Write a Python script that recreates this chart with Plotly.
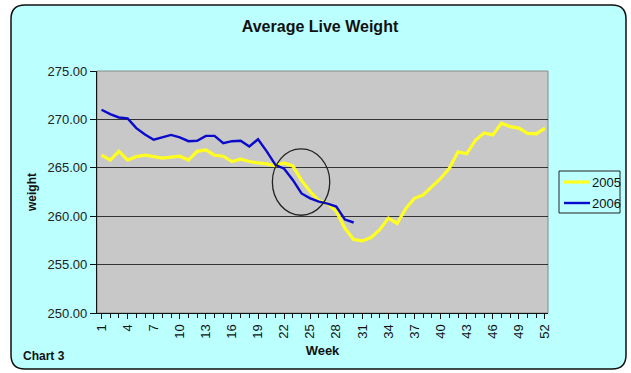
import plotly.graph_objects as go

# Weekly average live weight
weeks = list(range(1, 53))
weight_2005 = [
    266.3, 265.8, 266.7, 265.8, 266.15, 266.3, 266.15, 266.0, 266.1, 266.2,
    265.8, 266.7, 266.85, 266.3, 266.2, 265.65, 265.9, 265.65, 265.5, 265.4,
    265.2, 265.5, 265.2, 263.7, 262.55, 261.6, 261.3, 260.5, 258.75, 257.6,
    257.45, 257.8, 258.6, 259.8, 259.25, 260.8, 261.85, 262.2, 263.05, 263.9,
    264.95, 266.65, 266.45, 267.85, 268.6, 268.4, 269.6, 269.25, 269.1, 268.55,
    268.5, 269.1,
]
weight_2006 = [
    271.0, 270.55, 270.2, 270.1, 269.1, 268.45, 267.9, 268.15, 268.4, 268.15,
    267.75, 267.8, 268.3, 268.3, 267.55, 267.75, 267.8, 267.2, 267.95, 266.7,
    265.3, 264.9, 263.75, 262.35, 261.85, 261.5, 261.3, 261.0, 259.65, 259.35,
]
series_names = ["2005", "2006"]
series_colors = ["#FFFF22", "#0A0ACC"]
series_widths = [3.2, 2.4]
x_tick_vals = list(range(1, 53, 3))
x_tick_text = [str(v) for v in x_tick_vals]
y_tick_vals = [250, 255, 260, 265, 270, 275]

W, H = 631, 373
L, R, T, B = 97, 548, 71, 313
CYAN = "#BBFFFF"
FONT = "Liberation Sans, Arial, sans-serif"


def fx(px):
    return (px - L) / (R - L)


def fy(py):
    return (B - py) / (B - T)


def rounded_rect(x0, y0, x1, y1, r):
    rx = r / (R - L)
    ry = r / (B - T)
    a, b, c, d = fx(x0), fy(y0), fx(x1), fy(y1)
    return (
        f"M {a + rx} {b} L {c - rx} {b} Q {c} {b} {c} {b - ry} "
        f"L {c} {d + ry} Q {c} {d} {c - rx} {d} "
        f"L {a + rx} {d} Q {a} {d} {a} {d + ry} "
        f"L {a} {b - ry} Q {a} {b} {a + rx} {b} Z"
    )


fig = go.Figure()
for name, ys, color, width in zip(series_names, [weight_2005, weight_2006],
                                  series_colors, series_widths):
    fig.add_trace(go.Scatter(
        x=weeks[:len(ys)], y=ys, name=name, mode="lines",
        line=dict(color=color, width=width), showlegend=False,
    ))

# chart background panel with rounded corners, then the grey plot area
fig.add_shape(type="path", xref="paper", yref="paper", layer="below",
              path=rounded_rect(11, 5, 626, 369, 14),
              fillcolor=CYAN, line=dict(color="#111111", width=1.5))
fig.add_shape(type="rect", xref="paper", yref="paper", layer="below",
              x0=0, x1=1, y0=0, y1=1,
              fillcolor="#C8C8C8", line=dict(color="#888888", width=1))

# highlight ellipse around the crossover weeks
fig.add_shape(type="circle", xref="x", yref="y",
              x0=20.65, x1=27.25, y0=260.1, y1=266.95,
              line=dict(color="#222222", width=1.3))

# compact legend box on the right
fig.add_shape(type="rect", xref="paper", yref="paper",
              x0=fx(559), x1=fx(620), y0=fy(213), y1=fy(171),
              fillcolor=CYAN, line=dict(color="#222222", width=1))
for i, (name, color, width) in enumerate(zip(series_names, series_colors, series_widths)):
    yy = 182 + i * 21
    fig.add_shape(type="line", xref="paper", yref="paper",
                  x0=fx(564), x1=fx(590), y0=fy(yy), y1=fy(yy),
                  line=dict(color=color, width=width))
    fig.add_annotation(text=name, xref="paper", yref="paper",
                       x=fx(590), y=fy(yy), xanchor="left", yanchor="middle",
                       showarrow=False, font=dict(size=13, color="#111111", family=FONT))

fig.add_annotation(text="<b>Chart 3</b>", xref="paper", yref="paper",
                   x=fx(21), y=fy(356), xanchor="left", yanchor="middle",
                   showarrow=False, font=dict(size=12, color="#111111", family=FONT))

fig.update_layout(
    width=W, height=H,
    margin=dict(l=L, r=W - R, t=T, b=H - B, pad=0, autoexpand=False),
    paper_bgcolor="white",
    plot_bgcolor="rgba(0,0,0,0)",
    font=dict(family=FONT, size=13, color="#111111"),
    title=dict(text="<b>Average Live Weight</b>", x=fx(320), xanchor="center",
               xref="paper", y=1 - 26 / H, yanchor="middle",
               font=dict(size=16, color="#111111", family=FONT)),
    showlegend=False,
)
fig.update_xaxes(
    range=[0.48, 52.35], tickmode="array", tickvals=x_tick_vals, ticktext=x_tick_text,
    tickangle=-90, ticks="outside", ticklen=5, tickcolor="#111111",
    minor=dict(dtick=1, tick0=1, ticks="outside", ticklen=4, tickcolor="#111111"),
    showgrid=False, showline=True, linecolor="#111111", linewidth=1.3,
    zeroline=False, tickfont=dict(size=13, color="#111111"), automargin=False,
    title=dict(text="<b>Week</b>", standoff=8, font=dict(size=13, color="#111111")),
)
fig.update_yaxes(
    range=[250, 275], tickmode="array", tickvals=y_tick_vals,
    tickformat=".2f", ticks="outside", ticklen=6, tickcolor="#111111",
    showgrid=True, gridcolor="#333333", gridwidth=1.3,
    showline=True, linecolor="#111111", linewidth=1.3, zeroline=False,
    tickfont=dict(size=13, color="#222222"), automargin=False,
    title=dict(text="<b>weight</b>", standoff=8, font=dict(size=12, color="#111111")),
)

fig.write_html("out.html")
